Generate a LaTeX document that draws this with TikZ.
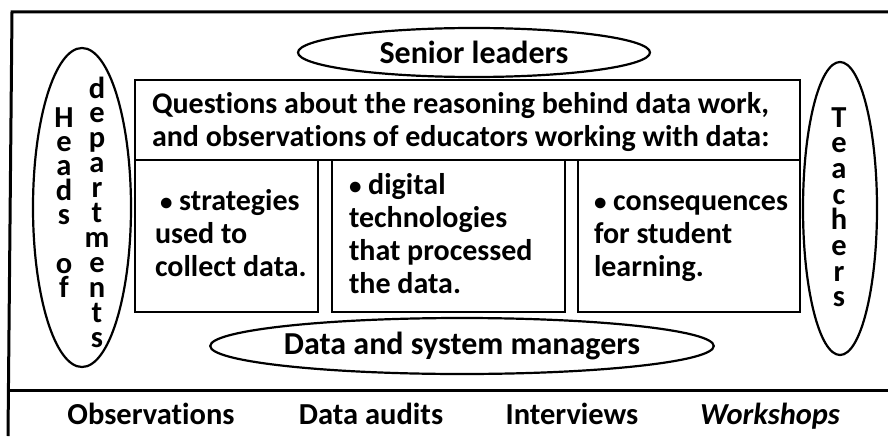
\documentclass[tikz,border=0pt]{standalone}
\usepackage{fontspec}
\setmainfont{Carlito}[Ligatures=NoCommon]
\usetikzlibrary{shapes.geometric}

% a column of letters, one per line, centred, fixed line pitch
\newcommand\letterstack[2]{\vtop{\baselineskip=#1\lineskiplimit=-100pt\relax
  \halign{\hfil##\hfil\cr#2\crcr}}}
% left-aligned lines whose baseline is the baseline of the first line
\newcommand\textlines[1]{\vtop{\baselineskip=33pt\relax
  \halign{##\hfil\cr#1\crcr}}}
% a slightly smaller bullet
\newcommand\dotmark{{\fontsize{25}{25}\selectfont•}}

\begin{document}
\begin{tikzpicture}[x=1pt,y=-1pt,
  every node/.style={inner sep=0pt, outer sep=0pt,
    font=\bfseries\fontsize{30}{33}\selectfont},
  frameline/.style={line width=3pt},
  panel/.style={draw, line width=2.6pt, rectangle},
  oval/.style={draw, line width=2.2pt, ellipse,
    font=\bfseries\fontsize{32}{33}\selectfont},
  label/.style={anchor=base west},
  letters/.style={anchor=base, font=\bfseries\fontsize{30.5}{33}\selectfont},
  method/.style={anchor=base, font=\bfseries\fontsize{30.5}{33}\selectfont}]

\useasboundingbox (0,0) rectangle (888,436);

% outer frame and the divider above the methods row
\coordinate (ftr) at (892,12);
\coordinate (ftl) at (12,12);
\coordinate (fbl) at (8,436);
\coordinate (dl) at (8.5,390);
\coordinate (dr) at (892,390);
\draw[frameline] (ftr) -- (ftl) -- (fbl);
\draw[frameline] (dl) -- (dr);

% question panel and its three sub-panels
\node[panel, minimum width=665, minimum height=80] (question) at (467.5,120) {};
\node[panel, minimum width=183, minimum height=152] (collect) at (226.5,236) {};
\node[panel, minimum width=233, minimum height=152] (digital) at (448.5,236) {};
\node[panel, minimum width=222, minimum height=152] (learning) at (689,236) {};

\node[label] (qtext) at (152,113) {\textlines{Questions about the reasoning behind data work,\cr
  and observations of educators working with data:}};
\node[label] (ctext) at (155,210) {\textlines{\hspace{5pt}\dotmark\ strategies\cr used to\cr collect data.}};
\node[label] (dtext) at (349,194) {\textlines{\dotmark\ digital\cr technologies\cr that processed\cr the data.}};
\node[label] (ltext) at (594,210) {\textlines{\dotmark\ consequences\cr for student\cr learning.}};

% participant groups
\node[oval, minimum width=352, minimum height=49] (senior) at (474,52.5) {Senior leaders};
\node[oval, minimum width=497, minimum height=56] (managers) at (462,346) {Data and system managers};
\node[oval, minimum width=98, minimum height=319] (heads) at (82,207.5) {};
\node[oval, minimum width=74, minimum height=293] (teachers) at (840,208.5) {};

\node[letters] (headsof) at (64,127)
  {\letterstack{24.4pt}{H\cr e\cr a\cr d\cr s\cr \cr o\cr f}};
\node[letters] (depts) at (97,98)
  {\letterstack{24.9pt}{d\cr e\cr p\cr a\cr r\cr t\cr m\cr e\cr n\cr t\cr s}};
\node[letters] (teach) at (839,127)
  {\letterstack{25.7pt}{T\cr e\cr a\cr c\cr h\cr e\cr r\cr s}};

% data collection methods
\node[method] (obs) at (151,424) {Observations};
\node[method] (audits) at (371,424) {Data audits};
\node[method] (interviews) at (572,424) {Interviews};
\node[method, font=\bfseries\itshape\fontsize{30.5}{33}\selectfont] (workshops) at (770,424) {Workshops};
\end{tikzpicture}
\end{document}
